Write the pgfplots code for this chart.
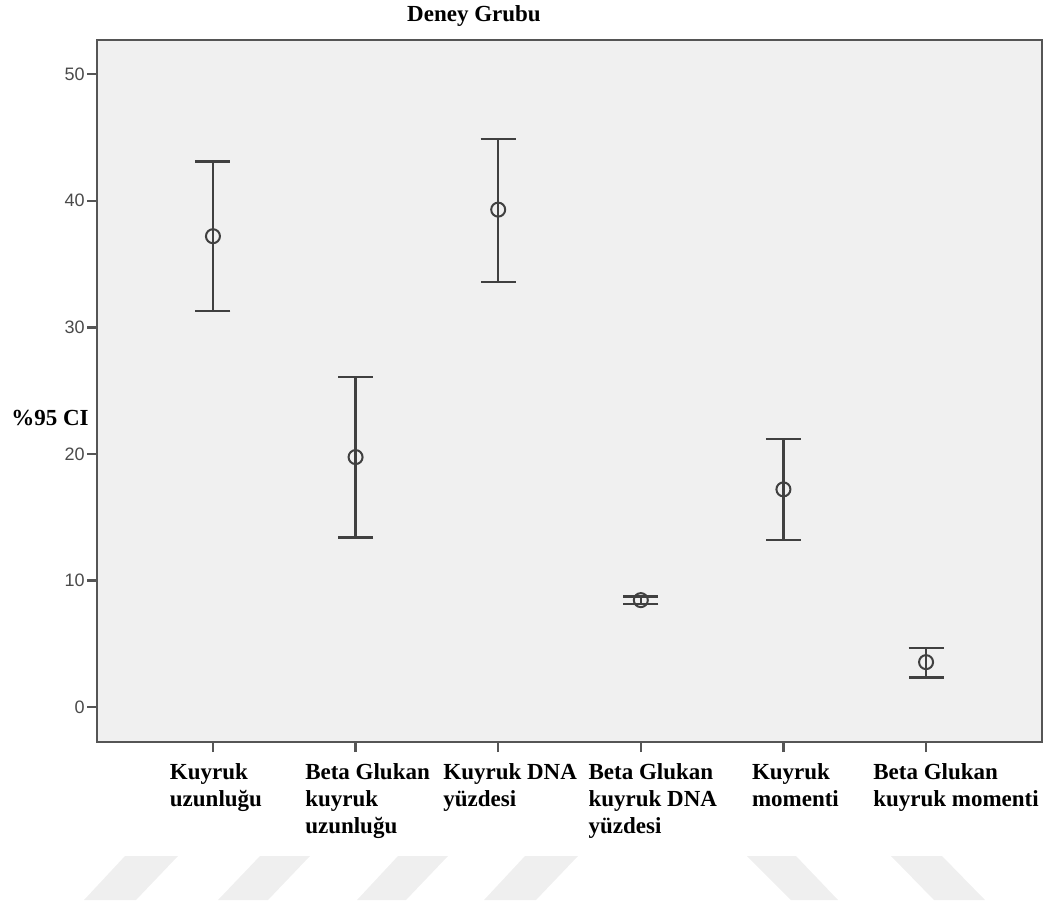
\documentclass[border=0pt]{standalone}
\usepackage{fontspec}
\setmainfont{Liberation Serif}
\newfontfamily\arialf{Liberation Sans}
\usepackage{pgfplots}
\pgfplotsset{compat=1.18}
\usepackage{pgfplotstable}
\definecolor{bgc}{HTML}{F0F0F0}
\definecolor{axc}{HTML}{555555}
\definecolor{barc}{HTML}{404040}
\definecolor{tickc}{HTML}{4A4A4A}
\definecolor{wm}{HTML}{EFEFEF}
\pgfplotstableread{
x y ep em
0 37.2 5.9 5.9
1 19.75 6.35 6.35
2 39.3 5.6 5.7
3 8.45 0.3 0.3
4 17.2 4.0 4.0
5 3.55 1.1 1.2
}\cidata
\begin{document}
\begin{tikzpicture}
\begin{scope}[x=0.5pt,y=-0.5pt]
\useasboundingbox (0,0) rectangle (1051,902);
\fill[wm] (84,900) -- (125,856) -- (178,856) -- (136,900) -- cycle;
\fill[wm] (218,900) -- (260,856) -- (310,856) -- (268,900) -- cycle;
\fill[wm] (357,900) -- (398,856) -- (448,856) -- (406,900) -- cycle;
\fill[wm] (484,900) -- (525,856) -- (578,856) -- (536,900) -- cycle;
\fill[wm] (747,856) -- (796,856) -- (838,900) -- (791,900) -- cycle;
\fill[wm] (891,856) -- (942,856) -- (985,900) -- (934,900) -- cycle;
\node[font=\bfseries\fontsize{11.5}{13.5}\selectfont] at (474,16) {Deney Grubu};
\node[font=\bfseries\fontsize{11.5}{13.5}\selectfont] at (50,418) {\%95 CI};
\end{scope}
\begin{axis}[
  at={(48.5pt,-371pt)}, anchor=south west,
  scale only axis, width=472.5pt, height=351pt,
  xmin=-0.813, xmax=5.813, ymin=-2.76, ymax=52.7,
  axis background/.style={fill=bgc},
  axis line style={draw=axc, line width=1.3pt},
  xtick={0,1,2,3,4,5},
  xticklabels={{Kuyruk\\uzunluğu\hspace*{9pt}},{Beta Glukan\\kuyruk\\uzunluğu},{Kuyruk DNA\\yüzdesi},{Beta Glukan\\kuyruk DNA\\yüzdesi},{Kuyruk\\momenti},{\hspace*{18pt}Beta Glukan\\\hspace*{18pt}kuyruk momenti}},
  ytick={0,10,20,30,40,50},
  xtick pos=left, ytick pos=left,
  tick align=outside,
  major tick length=5pt,
  tick style={draw=axc, line width=1.2pt},
  /pgf/number format/assume math mode=true,
  yticklabel style={font=\arialf\fontsize{9}{10}\selectfont, text=tickc, inner sep=1pt},
  xticklabel style={font=\bfseries\fontsize{11.5}{13.5}\selectfont, align=left, anchor=north, xshift=6pt, yshift=-2pt},
  clip=false,
]
\addplot[only marks, mark=o, mark size=3.5pt, mark options={draw=barc, line width=1pt},
  error bars/.cd, y dir=both, y explicit,
  error bar style={draw=barc, line width=1.2pt},
  error mark options={rotate=90, draw=barc, line width=1.2pt, mark size=8.75pt}]
  table[x=x, y=y, y error plus=ep, y error minus=em] {\cidata};
\end{axis}
\end{tikzpicture}
\end{document}
